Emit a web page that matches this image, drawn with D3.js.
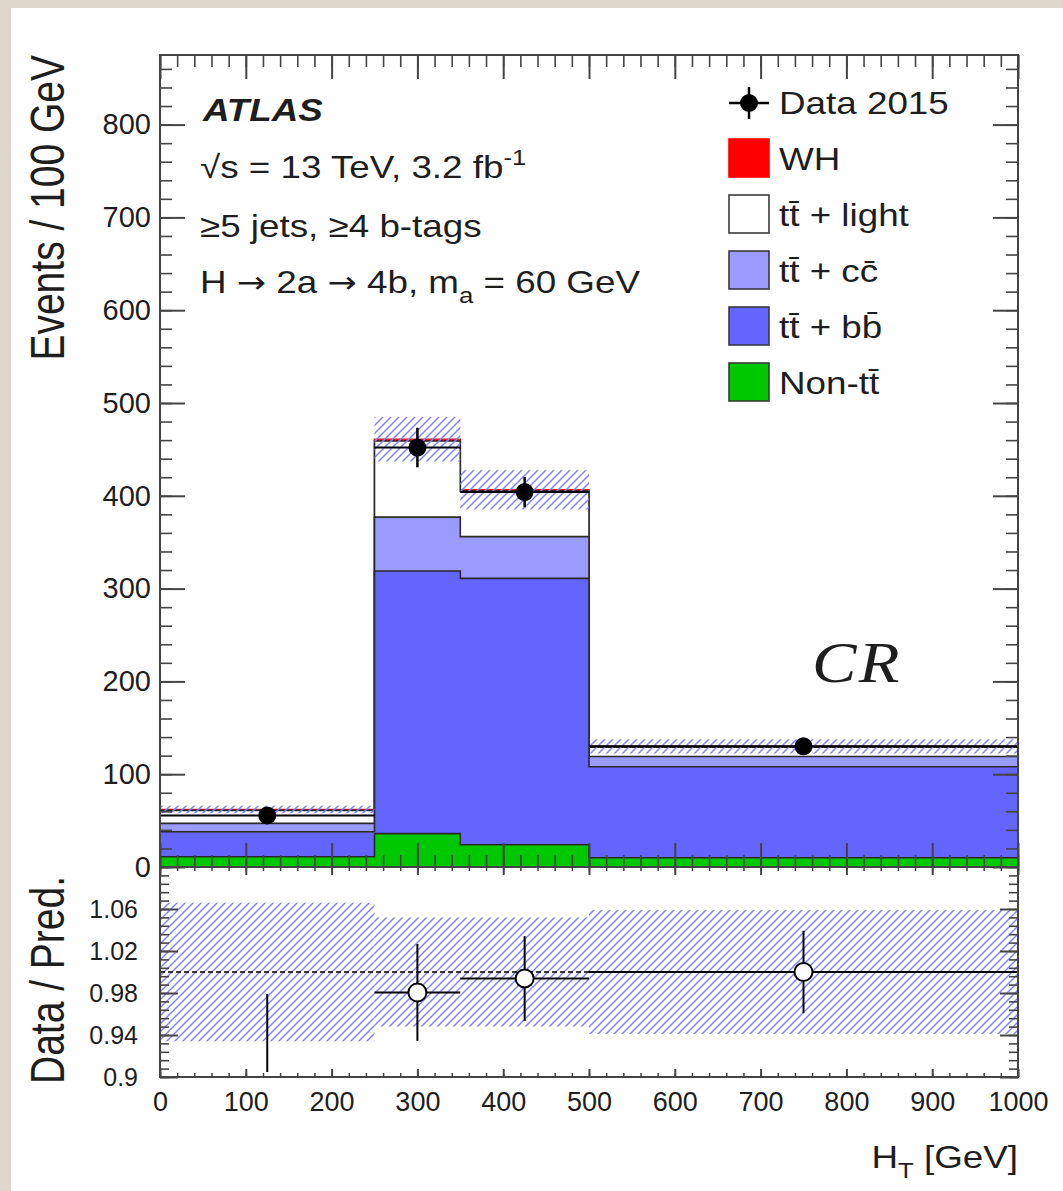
<!DOCTYPE html>
<html>
<head>
<meta charset="utf-8">
<script src="https://cdn.jsdelivr.net/npm/d3@7"></script>
<style>
  body { margin: 0; background: #ddd8cb; }
  svg { display: block; }
  text { font-family: "Liberation Sans", Arial, Helvetica, sans-serif; fill: #1e1e1e; }
</style>
</head>
<body>
<svg id="chart" width="1063" height="1191"></svg>
<script>
// bins of H_T [GeV], values are Events / 100 GeV
const binEdges = [0, 250, 350, 500, 1000];
const nonTT   = [11, 36, 24, 10];
const ttbb    = [27, 283, 287, 98];
const ttcc    = [9, 58, 45, 11];
const ttlight = [14, 82, 49, 10];
const wh      = [1, 2, 1.5, 1];
const dataVals = [55.5, 452, 404, 130];
const dataErr  = [5.2, 21.3, 16.4, 5.1];
const bandRel  = [0.066, 0.052, 0.052, 0.059];   // relative prediction uncertainty

const yTicksMain  = [0, 100, 200, 300, 400, 500, 600, 700, 800];
const yTicksRatio = [0.9, 0.94, 0.98, 1.02, 1.06];
const xTicks = [0, 100, 200, 300, 400, 500, 600, 700, 800, 900, 1000];

const layerKeys   = ["nonTT", "ttbb", "ttcc", "ttlight", "wh"];
const layerColors = { nonTT: "#00c800", ttbb: "#6464ff", ttcc: "#9a9aff", ttlight: "#ffffff", wh: "#ff0000" };
const legendItems = [
  { key: "wh",      label: "WH" },
  { key: "ttlight", label: "tt\u0304 + light" },
  { key: "ttcc",    label: "tt\u0304 + cc\u0304" },
  { key: "ttbb",    label: "tt\u0304 + bb\u0304" },
  { key: "nonTT",   label: "Non-tt\u0304" }
];

const svg = d3.select("#chart");
svg.append("rect").attr("x", 11).attr("y", 8).attr("width", 1052).attr("height", 1183).attr("fill", "#fff");

const defs = svg.append("defs");
defs.append("pattern")
  .attr("id", "hatch")
  .attr("patternUnits", "userSpaceOnUse")
  .attr("width", 8).attr("height", 8)
  .append("path")
  .attr("d", "M-2,2 l4,-4 M0,8 l8,-8 M6,10 l4,-4")
  .attr("stroke", "#7c7cff")
  .attr("stroke-width", 1.4);

const x  = d3.scaleLinear().domain([0, 1000]).range([160, 1018]);
const y  = d3.scaleLinear().domain([0, 875]).range([867, 55]);
const yr = d3.scaleLinear().domain([0.9, 1.1]).range([1077, 867]);

// rows per bin for the stack
const rows = binEdges.slice(0, -1).map((e, i) => ({
  nonTT: nonTT[i], ttbb: ttbb[i], ttcc: ttcc[i], ttlight: ttlight[i], wh: wh[i]
}));
const series = d3.stack().keys(layerKeys)(rows);
const totals = rows.map((r, i) => series[series.length - 1][i][1]);

function stepPoints(vals) {
  return vals.flatMap((v, i) => [{ x: binEdges[i], v: v }, { x: binEdges[i + 1], v: v }]);
}

const area = d3.area()
  .x(p => x(p.x))
  .y0(y(0))
  .y1(p => y(p.v));

// ROOT style stack: draw cumulative histograms from the top one down
const main = svg.append("g");
series.slice().reverse().forEach(s => {
  main.append("path")
    .datum(stepPoints(s.map(d => d[1])))
    .attr("d", area)
    .attr("fill", layerColors[s.key])
    .attr("stroke", s.key === "wh" ? "#e02020" : "#2a2a2a")
    .attr("stroke-width", 1.6);
});

// uncertainty band
main.selectAll(".band")
  .data(totals)
  .enter().append("rect")
  .attr("x", (t, i) => x(binEdges[i]))
  .attr("width", (t, i) => x(binEdges[i + 1]) - x(binEdges[i]))
  .attr("y", (t, i) => y(t * (1 + bandRel[i])))
  .attr("height", (t, i) => y(t * (1 - bandRel[i])) - y(t * (1 + bandRel[i])))
  .attr("fill", "url(#hatch)");

// data points
dataVals.forEach((v, i) => {
  const cx = x((binEdges[i] + binEdges[i + 1]) / 2);
  main.append("line")
    .attr("x1", x(binEdges[i])).attr("x2", x(binEdges[i + 1]))
    .attr("y1", y(v)).attr("y2", y(v))
    .attr("stroke", "#000").attr("stroke-width", 2);
  main.append("line")
    .attr("x1", cx).attr("x2", cx)
    .attr("y1", y(v - dataErr[i])).attr("y2", y(v + dataErr[i]))
    .attr("stroke", "#000").attr("stroke-width", 2.5);
  main.append("circle").attr("cx", cx).attr("cy", y(v)).attr("r", 9).attr("fill", "#000");
});

// ratio panel
const ratio = svg.append("g");
ratio.selectAll(".rband")
  .data(bandRel)
  .enter().append("rect")
  .attr("x", (r, i) => x(binEdges[i]))
  .attr("width", (r, i) => x(binEdges[i + 1]) - x(binEdges[i]))
  .attr("y", r => yr(1 + r))
  .attr("height", r => yr(1 - r) - yr(1 + r))
  .attr("fill", "url(#hatch)");

ratio.append("line")
  .attr("x1", x(0)).attr("x2", x(1000))
  .attr("y1", yr(1)).attr("y2", yr(1))
  .attr("stroke", "#000").attr("stroke-width", 1.6)
  .attr("stroke-dasharray", "5,3");

dataVals.forEach((v, i) => {
  const r = v / totals[i];
  const e = dataErr[i] / totals[i];
  const cx = x((binEdges[i] + binEdges[i + 1]) / 2);
  const yLow = r - e < 0.9 ? yr(0.9) - 5 : yr(r - e);
  ratio.append("line")
    .attr("x1", cx).attr("x2", cx)
    .attr("y1", yLow).attr("y2", yr(Math.min(r + e, 1.1)))
    .attr("stroke", "#000").attr("stroke-width", 2);
  if (r >= 0.9 && r <= 1.1) {
    ratio.append("line")
      .attr("x1", x(binEdges[i])).attr("x2", x(binEdges[i + 1]))
      .attr("y1", yr(r)).attr("y2", yr(r))
      .attr("stroke", "#000").attr("stroke-width", 2);
    ratio.append("circle").attr("cx", cx).attr("cy", yr(r)).attr("r", 9)
      .attr("fill", "#fff").attr("stroke", "#000").attr("stroke-width", 2);
  }
});

// axes (ticks inside, ROOT style)
function styleAxis(g, w, fs) {
  g.select(".domain").remove();
  g.selectAll(".tick line").attr("stroke", "#444").attr("stroke-width", w);
  g.selectAll("text").attr("font-size", fs).attr("fill", "#1e1e1e")
    .style("font-family", "'Liberation Sans', Arial, sans-serif");
}
function addAxis(axis, tx, ty, w, fs) {
  svg.append("g").attr("transform", `translate(${tx},${ty})`).call(axis).call(g => styleAxis(g, w, fs));
}
const minorX = d3.range(0, 1001, 20);
const minorY = d3.range(0, 876, 20);
const minorR = d3.range(0, 26).map(k => 0.9 + k * 0.008);

// ticks only, no labels
function tickAxis(axis, values, size, tx, ty, w) {
  const g = svg.append("g").attr("transform", `translate(${tx},${ty})`)
    .call(axis.tickValues(values).tickSize(size));
  g.select(".domain").remove();
  g.selectAll(".tick text").remove();
  g.selectAll(".tick line").attr("stroke", "#444").attr("stroke-width", w);
}

// main panel
tickAxis(d3.axisLeft(y), minorY, -12, 160, 0, 1.6);
addAxis(d3.axisLeft(y).tickValues(yTicksMain).tickSize(-25).tickPadding(9).tickFormat(d3.format("d")), 160, 0, 2, 29);
tickAxis(d3.axisRight(y), minorY, -12, 1018, 0, 1.6);
tickAxis(d3.axisRight(y), yTicksMain, -25, 1018, 0, 2);
tickAxis(d3.axisTop(x), minorX, -12, 0, 55, 1.6);
tickAxis(d3.axisTop(x), xTicks, -24, 0, 55, 2);
tickAxis(d3.axisBottom(x), minorX, -12, 0, 867, 1.6);
tickAxis(d3.axisBottom(x), xTicks, -24, 0, 867, 2);

// ratio panel
tickAxis(d3.axisLeft(yr), minorR, -9, 160, 0, 1.6);
addAxis(d3.axisLeft(yr).tickValues(yTicksRatio).tickSize(-18).tickPadding(22).tickFormat(d => String(d)), 160, 0, 2, 25);
tickAxis(d3.axisRight(yr), minorR, -9, 1018, 0, 1.6);
tickAxis(d3.axisRight(yr), yTicksRatio, -18, 1018, 0, 2);
tickAxis(d3.axisTop(x), minorX, -4, 0, 867, 1.5);
tickAxis(d3.axisTop(x), xTicks, -8, 0, 867, 2);
tickAxis(d3.axisBottom(x), minorX, -4, 0, 1077, 1.5);
addAxis(d3.axisBottom(x).tickValues(xTicks).tickSize(-8).tickPadding(15).tickFormat(d3.format("d")), 0, 1077, 2, 27);

// frames
[[55, 867], [867, 1077]].forEach(([t, b]) => {
  svg.append("rect")
    .attr("x", x(0)).attr("y", t)
    .attr("width", x(1000) - x(0)).attr("height", b - t)
    .attr("fill", "none").attr("stroke", "#444").attr("stroke-width", 2);
});

// text helpers: parts are strings, {sup}, {sub} or {arrow}
function label(tx, ty, parts, opts = {}) {
  const t = svg.append("text")
    .attr("transform", `translate(${tx},${ty}) ${opts.rotate ? "rotate(-90) scale(1,1.25)" : "scale(1.15,1)"}`)
    .attr("font-size", opts.size || 32)
    .attr("text-anchor", opts.anchor || "start");
  if (opts.weight) t.attr("font-weight", opts.weight);
  if (opts.style) t.attr("font-style", opts.style);
  if (opts.family) t.style("font-family", opts.family);
  if (opts.spacing) t.attr("letter-spacing", opts.spacing);
  let shift = 0; // pending baseline reset, in px
  const size = opts.size || 32;
  parts.forEach(p => {
    if (typeof p === "string") {
      t.append("tspan").attr("dy", shift ? -shift : null).text(p);
      shift = 0;
    } else if (p.arrow) {
      t.append("tspan").attr("dy", shift ? -shift : null)
        .style("font-family", "'DejaVu Sans', sans-serif").attr("font-size", size * 0.95).text(p.arrow);
      shift = 0;
    } else {
      const d = (p.sup ? -0.42 : 0.3) * size;
      t.append("tspan").attr("font-size", size * 0.7).attr("dy", d - shift).text(p.sup || p.sub);
      shift = d;
    }
  });
  return t;
}

label(203, 121, ["ATLAS"], { weight: "bold", style: "italic" });
label(200, 178, ["\u221As = 13 TeV, 3.2 fb", { sup: "-1" }]);
label(200, 237, ["\u22655 jets, \u22654 b-tags"]);
label(200, 293, ["H ", { arrow: "\u2192" }, " 2a ", { arrow: "\u2192" }, " 4b, m", { sub: "a" }, " = 60 GeV"]);

// legend
const lg = svg.append("g");
lg.append("line").attr("x1", 729).attr("x2", 769).attr("y1", 103).attr("y2", 103).attr("stroke", "#000").attr("stroke-width", 2.5);
lg.append("line").attr("x1", 749).attr("x2", 749).attr("y1", 87).attr("y2", 119).attr("stroke", "#000").attr("stroke-width", 2.5);
lg.append("circle").attr("cx", 749).attr("cy", 103).attr("r", 9).attr("fill", "#000");
label(779, 114, ["Data 2015"]);
legendItems.forEach((it, k) => {
  const top = 139 + k * 56;
  lg.append("rect")
    .attr("x", 729).attr("y", top).attr("width", 40).attr("height", 38)
    .attr("fill", layerColors[it.key])
    .attr("stroke", it.key === "wh" ? "#ff0000" : "#3a3a3a").attr("stroke-width", 1.6);
  label(779, top + 31, [it.label]);
});

label(812, 682, ["CR"], { size: 58, style: "italic", family: "'Liberation Serif', 'DejaVu Serif', serif", spacing: 2 });

// axis titles
label(1018, 1168, ["H", { sub: "T" }, " [GeV]"], { anchor: "end" });
label(64, 55, ["Events / 100 GeV"], { rotate: true, anchor: "end", size: 39 });
label(64, 980, ["Data / Pred."], { rotate: true, anchor: "middle", size: 39 });
</script>
</body>
</html>
